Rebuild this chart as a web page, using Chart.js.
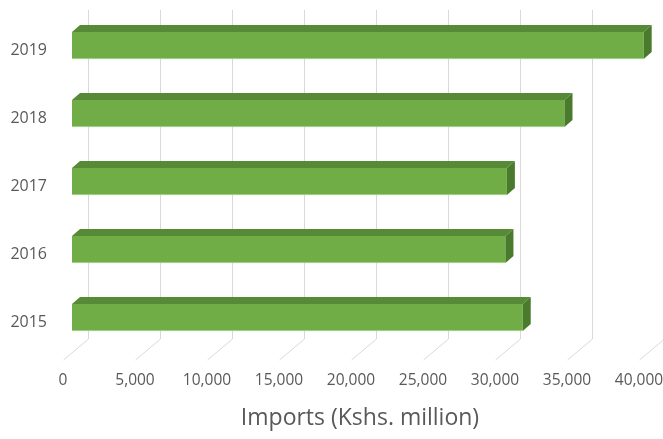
<!DOCTYPE html>
<html>
<head>
<meta charset="utf-8">
<script src="https://cdn.jsdelivr.net/npm/chart.js@4"></script>
<style>
  html, body { margin: 0; padding: 0; background: #fff; }
  #wrap { width: 663px; height: 439px; }
</style>
</head>
<body>
<div id="wrap"><canvas id="imports"></canvas></div>
<script>
// data (Kshs. million)
const years = ["2019", "2018", "2017", "2016", "2015"];
const imports = [39700, 34200, 30200, 30100, 31300];
const xTicks = [0, 5000, 10000, 15000, 20000, 25000, 30000, 35000, 40000];

const textColor = "#595959";
const font = "'Open Sans', sans-serif";

// fake 3D look: back-wall grid, floor lines, bar top and side faces
const depth = { dx: 8, dy: -7 };
const wall = { dx: 16, floorBack: 339, floorFront: 360, frontDx: -9 };

const box3d = {
    id: 'box3d',
    beforeDatasetsDraw(chart) {
        const ctx = chart.ctx;
        const x = chart.scales.x;
        ctx.save();
        ctx.strokeStyle = "#d9d9d9";
        ctx.lineWidth = 1;
        xTicks.forEach(v => {
            const px = Math.round(x.getPixelForValue(v)) + 0.5;
            ctx.beginPath();
            ctx.moveTo(px + wall.dx, 10);
            ctx.lineTo(px + wall.dx, wall.floorBack);
            ctx.lineTo(px + wall.frontDx, wall.floorFront);
            ctx.stroke();
        });
        ctx.restore();
    },
    afterDatasetsDraw(chart) {
        const ctx = chart.ctx;
        const meta = chart.getDatasetMeta(0);
        ctx.save();
        meta.data.forEach(bar => {
            const p = bar.getProps(['x', 'y', 'base', 'height'], true);
            const left = p.base, right = p.x;
            const top = p.y - p.height / 2, bottom = p.y + p.height / 2;
            // top face
            ctx.fillStyle = "#578a36";
            ctx.beginPath();
            ctx.moveTo(left, top);
            ctx.lineTo(left + depth.dx, top + depth.dy);
            ctx.lineTo(right + depth.dx, top + depth.dy);
            ctx.lineTo(right, top);
            ctx.closePath();
            ctx.fill();
            // side face
            ctx.fillStyle = "#4a7a2b";
            ctx.beginPath();
            ctx.moveTo(right, top);
            ctx.lineTo(right + depth.dx, top + depth.dy);
            ctx.lineTo(right + depth.dx, bottom + depth.dy);
            ctx.lineTo(right, bottom);
            ctx.closePath();
            ctx.fill();
            // light lower edge
            ctx.strokeStyle = "#a9d18e";
            ctx.lineWidth = 1;
            ctx.beginPath();
            ctx.moveTo(left, bottom - 0.5);
            ctx.lineTo(right, bottom - 0.5);
            ctx.stroke();
        });
        ctx.restore();
    }
};

new Chart(document.getElementById('imports'), {
    type: 'bar',
    data: {
        labels: years,
        datasets: [{
            data: imports,
            backgroundColor: "#70ad47",
            borderWidth: 0,
            barPercentage: 0.4,
            categoryPercentage: 1
        }]
    },
    options: {
        indexAxis: 'y',
        responsive: true,
        maintainAspectRatio: false,
        animation: false,
        layout: {
            padding: { top: 11.5, right: 15, bottom: 7, left: 0 }
        },
        plugins: {
            legend: { display: false },
            tooltip: { enabled: false }
        },
        scales: {
            x: {
                min: 0,
                max: 40000,
                afterBuildTicks: scale => {
                    scale.ticks = xTicks.map(v => ({ value: v }));
                },
                afterFit: scale => {
                    scale.height = 80.5;
                    scale.paddingLeft = 0;
                    scale.paddingRight = 0;
                },
                grid: { display: false, drawTicks: false },
                border: { display: false },
                ticks: {
                    color: textColor,
                    font: { family: font, size: 15.5 },
                    padding: 20,
                    labelOffset: -9,
                    maxRotation: 0,
                    autoSkip: false,
                    callback: v => v.toLocaleString('en-US')
                },
                title: {
                    display: true,
                    text: 'Imports (Kshs. million)',
                    color: textColor,
                    font: { family: font, size: 23 },
                    padding: { top: 14, bottom: 0 }
                }
            },
            y: {
                afterFit: scale => {
                    scale.width = 72;
                    scale.paddingTop = 0;
                    scale.paddingBottom = 0;
                },
                grid: { display: false, drawTicks: false },
                border: { display: false },
                ticks: {
                    color: textColor,
                    font: { family: font, size: 16 },
                    padding: 25,
                    labelOffset: 4.5
                }
            }
        }
    },
    plugins: [box3d]
});
</script>
</body>
</html>
